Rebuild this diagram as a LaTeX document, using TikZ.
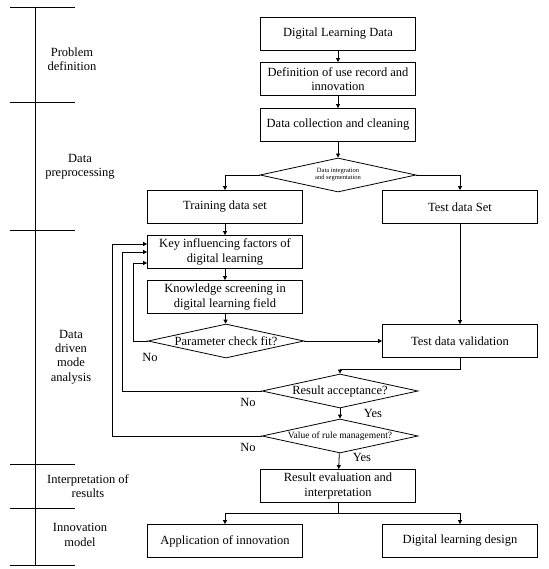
\documentclass[tikz,border=0pt]{standalone}
\usepackage{fontspec}
\setmainfont{Liberation Serif}
\usetikzlibrary{positioning}
\usetikzlibrary{shapes.geometric}
\usetikzlibrary{arrows.meta}

\begin{document}
\begin{tikzpicture}[x=1pt,y=-1pt,line width=0.8pt,
		>={Triangle[length=4pt,width=4pt]},
		box/.style={fill = white, draw,rectangle,minimum width = 155pt,minimum height = 33pt,inner sep=1pt,align=center,font=\fontsize{12.5}{14.5}\selectfont},
		dia/.style={draw,diamond,aspect=4.5,minimum width = 156pt,minimum height = 34pt,inner sep=0pt,align=center,font=\fontsize{12.5}{14}\selectfont},
		stage/.style={align=center,font=\fontsize{12.5}{14.3}\selectfont},
		lbl/.style={font=\fontsize{12.5}{14}\selectfont,inner sep=0pt}]
		\useasboundingbox (0,0) rectangle (548,569);
		% stages on the left
		\draw (35,7) -- (35,565);
		\foreach \y in {7,102,230,464,508,565}
			\draw (10,\y) -- (75,\y);
		\node[stage] at (72,59) (s1) {Problem\\definition};
		\node[stage] at (80,167) (s2) {Data\\preprocessing};
		\node[stage] at (71,357) (s3) {Data\\driven\\mode\\analysis};
		\node[stage] at (88,486) (s4) {Interpretation of\\results};
		\node[stage] at (80,535) (s5) {Innovation\\model};
		% flow
		\node[box] at (338,34) (dld) {Digital Learning Data};
		\node[box] at (338,79) (def) {Definition of use record and\\innovation};
		\node[box] at (338,125) (dcc) {Data collection and cleaning};
		\node[dia,font=\fontsize{6.5}{7}\selectfont] at (338,175) (dis) {Data integration\\and segmentation};
		\node[box] at (225,207) (trn) {Training data set};
		\node[box] at (460,207) (tst) {Test data Set};
		\node[box] at (225,252) (key) {Key influencing factors of\\digital learning};
		\node[box] at (225,297) (kno) {Knowledge screening in\\digital learning field};
		\node[dia] at (226,341) (par) {Parameter check fit?};
		\node[box] at (460,341) (val) {Test data validation};
		\node[dia] at (340,391) (acc) {Result acceptance?};
		\node[dia,font=\fontsize{9.5}{10}\selectfont] at (340,436) (rul) {Value of rule management?};
		\node[box] at (338,486) (evl) {Result evaluation and\\interpretation};
		\node[box] at (225,541) (app) {Application of innovation};
		\node[box] at (460,541) (des) {Digital learning design};
		\draw[->] (dld) to (def);
		\draw[->] (def) to (dcc);
		\draw[->] (dcc) to (dis);
		\draw[->] (dis.west) -| (trn);
		\draw[->] (dis.east) -| (tst);
		\draw[->] (trn) to (key);
		\draw[->] (key) to (kno);
		\draw[->] (kno) to (par);
		\draw[->] (par) to (val);
		\draw[->] (tst) to (val);
		\draw[->] (val.south) -- ++(0,11) -| (acc.north);
		\draw[->] (acc) to (rul);
		\draw[->] (rul) to (evl);
		\draw[->] (evl.south) -- ++(0,10) coordinate (br) -| (app.north);
		\draw[->] (br) -| (des.north);
		% feedback
		\draw[->] (par.west) -- ++(-14,0) |- ([yshift=-11pt]key.west);
		\draw[->] (acc.west) -- ++(-139,0) |- (key.west);
		\draw[->] (rul.west) -- ++(-149,0) |- ([yshift=8pt]key.west);
		\node[lbl] at (150,357) (n1) {No};
		\node[lbl] at (248,402) (n2) {No};
		\node[lbl] at (248,447) (n3) {No};
		\node[lbl] at (373,413) (y1) {Yes};
		\node[lbl] at (362,457) (y2) {Yes};
	\end{tikzpicture}
\end{document}
